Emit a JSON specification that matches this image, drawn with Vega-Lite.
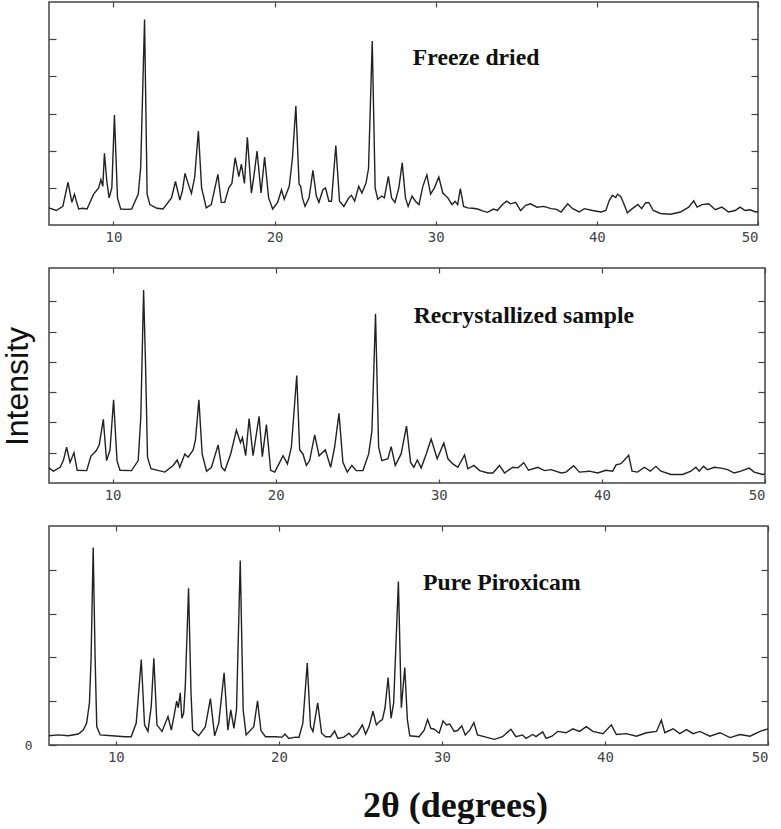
{
  "$schema": "https://vega.github.io/schema/vega-lite/v6.json",
  "padding": {"left": 0, "top": 0, "right": 0, "bottom": 0},
  "background": "white",
  "spacing": 43,
  "bounds": "flush",
  "config": {
    "view": {"stroke": "#444", "strokeWidth": 1.5},
    "axis": {"domain": false, "grid": false, "tickColor": "#444", "tickWidth": 1.2, "labelFont": "DejaVu Sans Mono", "labelFontSize": 14, "labelColor": "#444"}
  },
  "datasets": {
    "p1": [
      {"x":6.0,"y":0.46},{"x":6.45,"y":0.39},{"x":6.86,"y":0.5},{"x":7.18,"y":1.15},{"x":7.42,"y":0.61},{"x":7.58,"y":0.83},{"x":7.72,"y":0.61},{"x":7.84,"y":0.43},{"x":8.1,"y":0.45},{"x":8.36,"y":0.43},{"x":8.77,"y":0.83},{"x":9.08,"y":1.0},{"x":9.22,"y":1.22},{"x":9.34,"y":1.04},{"x":9.44,"y":1.93},{"x":9.59,"y":1.17},{"x":9.73,"y":0.73},{"x":9.9,"y":1.0},{"x":10.06,"y":2.96},{"x":10.25,"y":0.73},{"x":10.45,"y":0.43},{"x":10.8,"y":0.42},{"x":11.13,"y":0.43},{"x":11.54,"y":0.83},{"x":11.69,"y":1.55},{"x":11.93,"y":5.53},{"x":12.09,"y":0.83},{"x":12.26,"y":0.55},{"x":12.7,"y":0.45},{"x":13.08,"y":0.43},{"x":13.6,"y":0.73},{"x":13.85,"y":1.17},{"x":14.12,"y":0.67},{"x":14.28,"y":0.92},{"x":14.44,"y":1.39},{"x":14.63,"y":1.12},{"x":14.84,"y":0.85},{"x":15.04,"y":1.28},{"x":15.27,"y":2.53},{"x":15.47,"y":1.0},{"x":15.76,"y":0.46},{"x":16.07,"y":0.55},{"x":16.48,"y":1.36},{"x":16.69,"y":0.61},{"x":16.9,"y":0.61},{"x":17.16,"y":1.0},{"x":17.35,"y":1.12},{"x":17.55,"y":1.81},{"x":17.78,"y":1.3},{"x":17.94,"y":1.64},{"x":18.13,"y":1.12},{"x":18.31,"y":2.36},{"x":18.56,"y":0.86},{"x":18.72,"y":1.33},{"x":18.91,"y":1.99},{"x":19.16,"y":0.86},{"x":19.38,"y":1.83},{"x":19.63,"y":0.73},{"x":19.88,"y":0.43},{"x":20.19,"y":0.61},{"x":20.43,"y":0.95},{"x":20.6,"y":0.69},{"x":20.91,"y":1.04},{"x":21.11,"y":1.81},{"x":21.32,"y":3.2},{"x":21.52,"y":1.1},{"x":21.62,"y":1.04},{"x":21.73,"y":0.73},{"x":21.89,"y":0.5},{"x":22.14,"y":0.73},{"x":22.38,"y":1.47},{"x":22.59,"y":0.78},{"x":22.75,"y":0.61},{"x":23.0,"y":0.95},{"x":23.16,"y":1.0},{"x":23.37,"y":0.64},{"x":23.53,"y":0.64},{"x":23.8,"y":2.14},{"x":24.03,"y":0.64},{"x":24.3,"y":0.5},{"x":24.6,"y":0.73},{"x":24.77,"y":0.8},{"x":24.97,"y":0.64},{"x":25.22,"y":1.04},{"x":25.42,"y":0.86},{"x":25.67,"y":1.12},{"x":25.83,"y":1.52},{"x":26.06,"y":4.95},{"x":26.24,"y":1.0},{"x":26.4,"y":0.69},{"x":26.65,"y":0.78},{"x":26.81,"y":0.73},{"x":27.06,"y":1.31},{"x":27.26,"y":0.73},{"x":27.47,"y":0.61},{"x":27.71,"y":1.0},{"x":27.92,"y":1.67},{"x":28.12,"y":0.73},{"x":28.29,"y":0.5},{"x":28.53,"y":0.78},{"x":28.74,"y":0.64},{"x":28.96,"y":0.55},{"x":29.2,"y":1.04},{"x":29.45,"y":1.35},{"x":29.68,"y":0.83},{"x":29.92,"y":1.0},{"x":30.19,"y":1.29},{"x":30.44,"y":0.86},{"x":30.75,"y":0.73},{"x":31.01,"y":0.55},{"x":31.2,"y":0.64},{"x":31.36,"y":0.55},{"x":31.53,"y":0.98},{"x":31.73,"y":0.5},{"x":31.98,"y":0.46},{"x":32.3,"y":0.45},{"x":32.6,"y":0.43},{"x":32.9,"y":0.38},{"x":33.21,"y":0.34},{"x":33.58,"y":0.43},{"x":33.83,"y":0.39},{"x":34.14,"y":0.55},{"x":34.4,"y":0.64},{"x":34.65,"y":0.57},{"x":34.96,"y":0.61},{"x":35.27,"y":0.39},{"x":35.58,"y":0.53},{"x":35.88,"y":0.57},{"x":36.29,"y":0.48},{"x":36.7,"y":0.5},{"x":37.16,"y":0.44},{"x":37.5,"y":0.42},{"x":37.78,"y":0.35},{"x":38.19,"y":0.57},{"x":38.5,"y":0.44},{"x":38.91,"y":0.35},{"x":39.22,"y":0.44},{"x":39.73,"y":0.39},{"x":40.25,"y":0.35},{"x":40.56,"y":0.39},{"x":40.76,"y":0.65},{"x":40.97,"y":0.8},{"x":41.17,"y":0.74},{"x":41.28,"y":0.83},{"x":41.48,"y":0.77},{"x":41.65,"y":0.6},{"x":41.89,"y":0.33},{"x":42.2,"y":0.44},{"x":42.55,"y":0.55},{"x":42.78,"y":0.44},{"x":43.03,"y":0.6},{"x":43.23,"y":0.6},{"x":43.5,"y":0.39},{"x":43.95,"y":0.31},{"x":44.57,"y":0.29},{"x":45.19,"y":0.35},{"x":45.7,"y":0.48},{"x":46.01,"y":0.65},{"x":46.22,"y":0.48},{"x":46.53,"y":0.55},{"x":46.94,"y":0.57},{"x":47.35,"y":0.41},{"x":47.76,"y":0.48},{"x":48.17,"y":0.35},{"x":48.58,"y":0.39},{"x":48.89,"y":0.48},{"x":49.2,"y":0.39},{"x":49.51,"y":0.41},{"x":49.86,"y":0.35},{"x":50.0,"y":0.36}
    ],
    "p2": [
      {"x":6.1,"y":0.5},{"x":6.37,"y":0.39},{"x":6.78,"y":0.52},{"x":6.98,"y":0.74},{"x":7.18,"y":1.18},{"x":7.39,"y":0.68},{"x":7.63,"y":1.0},{"x":7.83,"y":0.42},{"x":8.41,"y":0.41},{"x":8.67,"y":0.89},{"x":8.88,"y":1.0},{"x":9.02,"y":1.09},{"x":9.18,"y":1.26},{"x":9.43,"y":2.1},{"x":9.63,"y":0.74},{"x":9.84,"y":1.09},{"x":10.06,"y":2.75},{"x":10.27,"y":0.74},{"x":10.45,"y":0.42},{"x":11.16,"y":0.41},{"x":11.57,"y":0.74},{"x":11.73,"y":2.2},{"x":11.9,"y":6.37},{"x":12.02,"y":3.9},{"x":12.14,"y":0.85},{"x":12.35,"y":0.47},{"x":13.2,"y":0.36},{"x":13.71,"y":0.58},{"x":13.96,"y":0.76},{"x":14.12,"y":0.52},{"x":14.43,"y":0.96},{"x":14.63,"y":0.85},{"x":14.94,"y":1.09},{"x":15.08,"y":1.42},{"x":15.29,"y":2.75},{"x":15.49,"y":0.96},{"x":15.76,"y":0.39},{"x":16.06,"y":0.52},{"x":16.47,"y":1.26},{"x":16.68,"y":0.52},{"x":16.88,"y":0.41},{"x":17.24,"y":0.96},{"x":17.59,"y":1.75},{"x":17.84,"y":1.33},{"x":17.96,"y":1.5},{"x":18.16,"y":0.9},{"x":18.37,"y":2.13},{"x":18.61,"y":0.9},{"x":18.98,"y":2.2},{"x":19.18,"y":0.87},{"x":19.43,"y":1.93},{"x":19.69,"y":0.42},{"x":19.94,"y":0.36},{"x":20.2,"y":0.63},{"x":20.45,"y":0.9},{"x":20.72,"y":0.63},{"x":20.96,"y":1.18},{"x":21.29,"y":3.55},{"x":21.47,"y":1.09},{"x":21.67,"y":0.96},{"x":21.88,"y":0.58},{"x":22.08,"y":0.74},{"x":22.39,"y":1.59},{"x":22.66,"y":0.9},{"x":23.04,"y":1.1},{"x":23.37,"y":0.52},{"x":23.61,"y":1.18},{"x":23.88,"y":2.3},{"x":24.12,"y":0.68},{"x":24.39,"y":0.36},{"x":24.67,"y":0.58},{"x":24.94,"y":0.41},{"x":25.35,"y":0.41},{"x":25.7,"y":0.96},{"x":25.9,"y":1.72},{"x":26.12,"y":5.59},{"x":26.31,"y":1.18},{"x":26.51,"y":0.74},{"x":26.88,"y":0.8},{"x":27.08,"y":1.2},{"x":27.33,"y":0.58},{"x":27.69,"y":0.96},{"x":28.02,"y":1.88},{"x":28.27,"y":0.68},{"x":28.47,"y":0.52},{"x":28.68,"y":0.76},{"x":28.92,"y":0.5},{"x":29.23,"y":0.96},{"x":29.53,"y":1.45},{"x":29.9,"y":0.8},{"x":30.31,"y":1.32},{"x":30.56,"y":0.8},{"x":30.86,"y":0.63},{"x":31.17,"y":0.52},{"x":31.58,"y":0.93},{"x":31.78,"y":0.47},{"x":32.15,"y":0.58},{"x":32.5,"y":0.41},{"x":33.01,"y":0.33},{"x":33.32,"y":0.33},{"x":33.72,"y":0.58},{"x":34.03,"y":0.33},{"x":34.54,"y":0.52},{"x":34.85,"y":0.5},{"x":35.21,"y":0.67},{"x":35.5,"y":0.42},{"x":36.07,"y":0.52},{"x":36.48,"y":0.41},{"x":36.89,"y":0.44},{"x":37.5,"y":0.33},{"x":37.8,"y":0.36},{"x":38.27,"y":0.57},{"x":38.62,"y":0.36},{"x":39.23,"y":0.39},{"x":39.74,"y":0.33},{"x":40.25,"y":0.42},{"x":40.66,"y":0.39},{"x":40.87,"y":0.6},{"x":41.17,"y":0.64},{"x":41.38,"y":0.76},{"x":41.64,"y":0.92},{"x":41.85,"y":0.39},{"x":42.19,"y":0.36},{"x":42.6,"y":0.52},{"x":42.97,"y":0.39},{"x":43.31,"y":0.55},{"x":43.62,"y":0.39},{"x":44.23,"y":0.28},{"x":44.95,"y":0.28},{"x":45.46,"y":0.39},{"x":45.76,"y":0.52},{"x":45.97,"y":0.39},{"x":46.23,"y":0.55},{"x":46.48,"y":0.44},{"x":46.89,"y":0.52},{"x":47.3,"y":0.49},{"x":47.71,"y":0.44},{"x":48.11,"y":0.33},{"x":48.52,"y":0.39},{"x":49.03,"y":0.49},{"x":49.34,"y":0.36},{"x":49.85,"y":0.28},{"x":50.0,"y":0.3}
    ],
    "p3": [
      {"x":5.9,"y":0.21},{"x":6.47,"y":0.23},{"x":7.09,"y":0.21},{"x":7.7,"y":0.25},{"x":8.0,"y":0.34},{"x":8.21,"y":0.5},{"x":8.38,"y":0.96},{"x":8.48,"y":1.96},{"x":8.61,"y":4.51},{"x":8.73,"y":1.96},{"x":8.83,"y":0.42},{"x":9.04,"y":0.23},{"x":9.75,"y":0.21},{"x":10.57,"y":0.19},{"x":10.94,"y":0.19},{"x":11.25,"y":0.5},{"x":11.56,"y":1.95},{"x":11.76,"y":0.46},{"x":11.97,"y":0.31},{"x":12.17,"y":0.88},{"x":12.33,"y":1.98},{"x":12.52,"y":0.46},{"x":12.83,"y":0.31},{"x":13.2,"y":0.65},{"x":13.4,"y":0.34},{"x":13.6,"y":0.73},{"x":13.73,"y":1.0},{"x":13.83,"y":0.85},{"x":13.95,"y":1.19},{"x":14.05,"y":0.61},{"x":14.16,"y":0.73},{"x":14.26,"y":1.35},{"x":14.46,"y":3.58},{"x":14.61,"y":1.19},{"x":14.71,"y":0.34},{"x":15.08,"y":0.21},{"x":15.49,"y":0.42},{"x":15.8,"y":1.06},{"x":16.06,"y":0.21},{"x":16.31,"y":0.5},{"x":16.64,"y":1.65},{"x":16.87,"y":0.34},{"x":17.05,"y":0.8},{"x":17.24,"y":0.38},{"x":17.4,"y":0.8},{"x":17.63,"y":4.21},{"x":17.81,"y":0.8},{"x":17.99,"y":0.23},{"x":18.46,"y":0.42},{"x":18.69,"y":1.01},{"x":18.9,"y":0.33},{"x":19.18,"y":0.19},{"x":19.79,"y":0.19},{"x":20.2,"y":0.18},{"x":20.37,"y":0.25},{"x":20.61,"y":0.15},{"x":21.02,"y":0.18},{"x":21.23,"y":0.17},{"x":21.47,"y":0.5},{"x":21.74,"y":1.87},{"x":21.94,"y":0.42},{"x":22.09,"y":0.31},{"x":22.38,"y":0.96},{"x":22.62,"y":0.27},{"x":22.87,"y":0.19},{"x":23.17,"y":0.19},{"x":23.42,"y":0.32},{"x":23.62,"y":0.15},{"x":23.99,"y":0.18},{"x":24.3,"y":0.27},{"x":24.51,"y":0.18},{"x":24.81,"y":0.27},{"x":25.12,"y":0.46},{"x":25.32,"y":0.25},{"x":25.53,"y":0.42},{"x":25.77,"y":0.77},{"x":25.98,"y":0.46},{"x":26.18,"y":0.54},{"x":26.35,"y":0.58},{"x":26.51,"y":0.85},{"x":26.7,"y":1.54},{"x":26.88,"y":0.61},{"x":27.04,"y":0.96},{"x":27.33,"y":3.73},{"x":27.51,"y":0.85},{"x":27.72,"y":1.77},{"x":27.88,"y":0.58},{"x":28.03,"y":0.21},{"x":28.6,"y":0.19},{"x":28.91,"y":0.34},{"x":29.12,"y":0.58},{"x":29.32,"y":0.38},{"x":29.53,"y":0.36},{"x":29.83,"y":0.27},{"x":30.07,"y":0.55},{"x":30.28,"y":0.46},{"x":30.48,"y":0.48},{"x":30.75,"y":0.31},{"x":30.96,"y":0.33},{"x":31.22,"y":0.44},{"x":31.43,"y":0.23},{"x":31.71,"y":0.34},{"x":31.96,"y":0.51},{"x":32.18,"y":0.23},{"x":32.7,"y":0.18},{"x":33.21,"y":0.13},{"x":33.72,"y":0.19},{"x":34.23,"y":0.36},{"x":34.54,"y":0.19},{"x":34.95,"y":0.23},{"x":35.16,"y":0.15},{"x":35.57,"y":0.24},{"x":35.77,"y":0.19},{"x":36.18,"y":0.3},{"x":36.39,"y":0.15},{"x":36.75,"y":0.2},{"x":37.1,"y":0.31},{"x":37.62,"y":0.28},{"x":38.03,"y":0.37},{"x":38.44,"y":0.31},{"x":38.85,"y":0.42},{"x":39.26,"y":0.31},{"x":39.88,"y":0.26},{"x":40.39,"y":0.46},{"x":40.7,"y":0.24},{"x":41.31,"y":0.26},{"x":41.93,"y":0.2},{"x":42.54,"y":0.28},{"x":43.16,"y":0.31},{"x":43.46,"y":0.57},{"x":43.67,"y":0.28},{"x":44.18,"y":0.37},{"x":44.59,"y":0.26},{"x":45.0,"y":0.35},{"x":45.41,"y":0.26},{"x":45.82,"y":0.31},{"x":46.44,"y":0.2},{"x":47.05,"y":0.28},{"x":47.67,"y":0.17},{"x":48.28,"y":0.24},{"x":48.9,"y":0.2},{"x":49.51,"y":0.31},{"x":50.0,"y":0.37}
    ]
  },
  "vconcat": [
    {
      "width": 709, "height": 223,
      "resolve": {"axis": {"x": "independent", "y": "independent"}},
      "layer": [
        {
          "data": {"name": "p1"},
          "mark": {"type": "line", "color": "#222", "strokeWidth": 1.4},
          "encoding": {
            "x": {"field": "x", "type": "quantitative", "scale": {"domain": [6, 50], "nice": false, "zero": false},
                  "axis": {"orient": "bottom", "values": [10, 20, 30, 40, 50], "tickSize": -4, "labelPadding": 9, "title": null}},
            "y": {"field": "y", "type": "quantitative", "scale": {"domain": [0, 6], "nice": false},
                  "axis": {"orient": "left", "values": [1, 2, 3, 4, 5], "tickSize": -7, "labels": false, "title": null}}
          }
        },
        {
          "data": {"values": [{"label": "Freeze dried"}]},
          "mark": {"type": "text", "font": "Liberation Serif", "fontWeight": "bold", "fontSize": 23.7, "align": "left", "baseline": "alphabetic", "color": "#111"},
          "encoding": {
            "text": {"field": "label"},
            "x": {"datum": 28.58, "type": "quantitative", "axis": {"orient": "top", "values": [10, 20, 30, 40, 50], "tickSize": -5, "labels": false, "title": null}},
            "y": {"datum": 4.3, "type": "quantitative", "axis": {"orient": "right", "values": [1, 2, 3, 4, 5], "tickSize": -7, "labels": false, "title": null}}
          }
        }
      ]
    },
    {
      "width": 716, "height": 215,
      "resolve": {"axis": {"x": "independent", "y": "independent"}},
      "layer": [
        {
          "data": {"name": "p2"},
          "mark": {"type": "line", "color": "#222", "strokeWidth": 1.4},
          "encoding": {
            "x": {"field": "x", "type": "quantitative", "scale": {"domain": [6.1, 50], "nice": false, "zero": false},
                  "axis": {"orient": "bottom", "values": [10, 20, 30, 40, 50], "tickSize": -4, "labelPadding": 9, "title": null}},
            "y": {"field": "y", "type": "quantitative", "scale": {"domain": [0, 7.1], "nice": false},
                  "axis": {"orient": "left", "values": [1, 2, 3, 4, 5, 6], "tickSize": -7, "labels": false,
                           "title": "Intensity", "titleFont": "Liberation Sans", "titleFontSize": 32, "titleFontWeight": "normal", "titleColor": "#111", "titlePadding": 14, "titleY": 118}}
          }
        },
        {
          "data": {"values": [{"label": "Recrystallized sample"}]},
          "mark": {"type": "text", "font": "Liberation Serif", "fontWeight": "bold", "fontSize": 23.7, "align": "left", "baseline": "alphabetic", "color": "#111"},
          "encoding": {
            "text": {"field": "label"},
            "x": {"datum": 28.46, "type": "quantitative", "axis": {"orient": "top", "values": [10, 20, 30, 40, 50], "tickSize": -5, "labels": false, "title": null}},
            "y": {"datum": 5.3, "type": "quantitative", "axis": {"orient": "right", "values": [1, 2, 3, 4, 5, 6], "tickSize": -7, "labels": false, "title": null}}
          }
        }
      ]
    },
    {
      "width": 719, "height": 219,
      "resolve": {"axis": {"x": "independent", "y": "independent"}},
      "layer": [
        {
          "data": {"name": "p3"},
          "mark": {"type": "line", "color": "#222", "strokeWidth": 1.4},
          "encoding": {
            "x": {"field": "x", "type": "quantitative", "scale": {"domain": [5.9, 50], "nice": false, "zero": false},
                  "axis": {"orient": "bottom", "values": [10, 20, 30, 40, 50], "tickSize": -4, "labelPadding": 9,
                           "title": "2θ (degrees)", "titleFont": "Liberation Serif", "titleFontSize": 36, "titleFontWeight": "bold", "titleColor": "#111", "titlePadding": 24, "titleX": 406}},
            "y": {"field": "y", "type": "quantitative", "scale": {"domain": [0, 5], "nice": false},
                  "axis": {"orient": "left", "values": [0, 1, 2, 3, 4], "tickSize": -7, "labelExpr": "datum.value == 0 ? '0' : ''", "labelPadding": 24, "labelFontSize": 13, "title": null}}
          }
        },
        {
          "data": {"values": [{"label": "Pure Piroxicam"}]},
          "mark": {"type": "text", "font": "Liberation Serif", "fontWeight": "bold", "fontSize": 23.7, "align": "left", "baseline": "alphabetic", "color": "#111"},
          "encoding": {
            "text": {"field": "label"},
            "x": {"datum": 28.84, "type": "quantitative", "axis": {"orient": "top", "values": [10, 20, 30, 40, 50], "tickSize": -5, "labels": false, "title": null}},
            "y": {"datum": 3.55, "type": "quantitative", "axis": {"orient": "right", "values": [1, 2, 3, 4], "tickSize": -7, "labels": false, "title": null}}
          }
        }
      ]
    }
  ]
}
